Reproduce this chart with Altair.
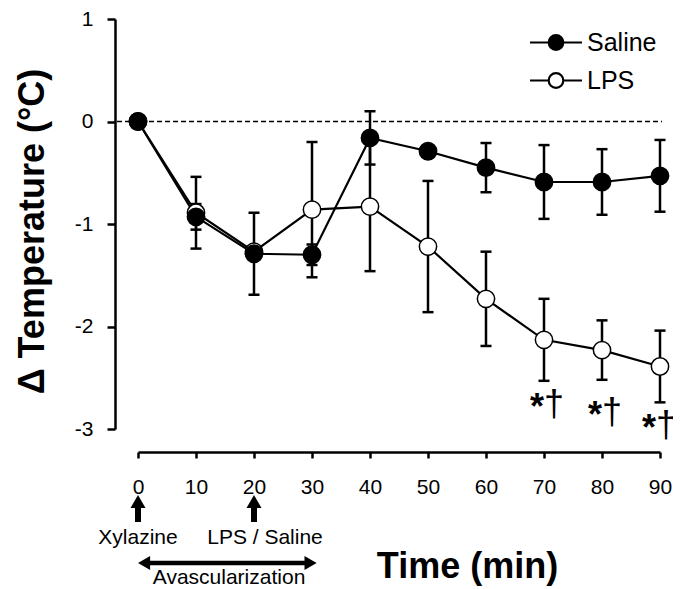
import altair as alt
import pandas as pd

# ---- data ----
time_min = [0, 10, 20, 30, 40, 50, 60, 70, 80, 90]
saline_mean = [0.0, -0.93, -1.29, -1.30, -0.16, -0.29, -0.45, -0.59, -0.59, -0.53]
saline_err = [0.0, 0.125, 0.40, 0.10, 0.26, 0.05, 0.24, 0.36, 0.32, 0.35]
lps_mean = [0.0, -0.89, -1.27, -0.86, -0.83, -1.22, -1.73, -2.13, -2.23, -2.39]
lps_err = [0.0, 0.35, 0.05, 0.66, 0.63, 0.64, 0.46, 0.40, 0.29, 0.35]
series_names = ["Saline", "LPS"]
series_fill = ["black", "white"]
x_ticks = [0, 10, 20, 30, 40, 50, 60, 70, 80, 90]
y_ticks = [-3, -2, -1, 0, 1]

sig_times = [70, 80, 90]
sig_y = [-2.90, -2.98, -3.11]
sig_shift_px = [0, 0, -4]

event_times = [0, 20]
event_labels = ["Xylazine", "LPS / Saline"]
event_dx = [0, 11]
span_start = [0]
span_end = [30.8]
span_label = ["Avascularization"]
span_mid = [15.7]

FONT = "Liberation Sans"
PLOT_W = 522
PX_PER_MIN = PLOT_W / 90

rows = []
for name, means, errs in (("LPS", lps_mean, lps_err), ("Saline", saline_mean, saline_err)):
    for t, m, e in zip(time_min, means, errs):
        rows.append({"time": t, "series": name, "mean": m, "lo": m - e, "hi": m + e, "err": e})
df = pd.DataFrame(rows)

x_scale = alt.Scale(domain=[0, 90], nice=False, zero=False)
y_scale = alt.Scale(domain=[-3, 1], nice=False, zero=False)

x_axis = alt.Axis(
    values=x_ticks, offset=23, grid=False,
    domainColor="black", domainWidth=2.5, tickColor="black", tickWidth=2.5, tickSize=6,
    labelFont=FONT, labelFontSize=21, labelColor="black", labelPadding=35,
    labelBaseline="alphabetic", labelFlush=False, labelOverlap=False,
    title="Time (min)", titleFont=FONT, titleFontSize=36, titleFontWeight="bold",
    titleColor="black", titleX=329, titleY=125, titleAlign="center",
    titleBaseline="alphabetic", titleAnchor="start",
)
y_axis = alt.Axis(
    values=y_ticks, offset=23, grid=False,
    domainColor="black", domainWidth=2.5, tickColor="black", tickWidth=2.5, tickSize=8,
    labelFont=FONT, labelFontSize=21, labelColor="black", labelPadding=14,
    labelExpr="'' + datum.value", labelFlush=False, labelOverlap=False,
    title="Δ Temperature (°C)", titleFont=FONT, titleFontSize=36, titleFontWeight="bold",
    titleColor="black", titleX=-72, titleY=212, titleAngle=270, titleAlign="center",
    titleBaseline="alphabetic", titleAnchor="start",
)

X = alt.X("time:Q", scale=x_scale, axis=x_axis)
base = alt.Chart(df)

zero_line = alt.Chart(pd.DataFrame({"v": [0]})).mark_rule(
    color="black", strokeWidth=1.5, strokeDash=[5, 3]
).encode(y=alt.Y("v:Q", scale=y_scale, axis=y_axis), x=alt.value(-21), x2=alt.value(PLOT_W + 2))

err_rule = base.transform_filter("datum.err > 0").mark_rule(color="black", strokeWidth=2.5).encode(
    x=X, y=alt.Y("lo:Q", scale=y_scale, axis=y_axis), y2="hi:Q"
)
cap_lo = base.transform_filter("datum.err > 0").mark_tick(
    orient="horizontal", size=11, thickness=2.5, color="black", opacity=1
).encode(x=X, y=alt.Y("lo:Q", scale=y_scale))
cap_hi = base.transform_filter("datum.err > 0").mark_tick(
    orient="horizontal", size=11, thickness=2.5, color="black", opacity=1
).encode(x=X, y=alt.Y("hi:Q", scale=y_scale))

lines = base.mark_line(color="black", strokeWidth=2.2).encode(
    x=X, y=alt.Y("mean:Q", scale=y_scale), detail="series:N", order="time:Q"
)

legend_path = "M-3.56,0H-1M1,0H3.56M1,0A1,1,0,1,1,-1,0A1,1,0,1,1,1,0Z"
points = base.mark_point(
    shape="circle", filled=True, size=300, stroke="black", strokeWidth=1.5, opacity=1
).encode(
    x=X, y=alt.Y("mean:Q", scale=y_scale),
    fill=alt.Fill(
        "series:N",
        scale=alt.Scale(domain=series_names, range=series_fill),
        legend=alt.Legend(
            title=None, orient="none", legendX=405.5, legendY=11, padding=0,
            symbolType=legend_path, symbolSize=213, symbolStrokeColor="black",
            symbolStrokeWidth=2.2, symbolOpacity=1,
            labelFont=FONT, labelFontSize=25, labelColor="black", labelOffset=18.5,
            rowPadding=12,
        ),
    ),
)

sig_df = pd.DataFrame({"time": sig_times, "y": sig_y, "shift": sig_shift_px})
sig_base = alt.Chart(sig_df).transform_calculate(tx=f"datum.time + datum.shift / {PX_PER_MIN}")
sig_star = sig_base.mark_text(
    text="*", font=FONT, fontSize=36, fontWeight="bold", color="black",
    baseline="alphabetic", align="center", dx=-7
).encode(x=alt.X("tx:Q", scale=x_scale), y=alt.Y("y:Q", scale=y_scale))
sig_dag = sig_base.mark_text(
    text="†", font=FONT, fontSize=36, color="black",
    baseline="alphabetic", align="center", dx=10, dy=-3
).encode(x=alt.X("tx:Q", scale=x_scale), y=alt.Y("y:Q", scale=y_scale))

ev_df = pd.DataFrame({"time": event_times, "label": event_labels, "dx": event_dx})
ev_shaft = alt.Chart(ev_df).mark_rule(color="black", strokeWidth=6).encode(
    x=X, y=alt.value(487), y2=alt.value(503)
)
ev_head = alt.Chart(ev_df).mark_point(
    shape="triangle-up", size=225, filled=True, color="black", opacity=1
).encode(x=X, y=alt.value(482.5))
ev_text = alt.Chart(ev_df).transform_calculate(tx=f"datum.time + datum.dx / {PX_PER_MIN}").mark_text(
    font=FONT, fontSize=21, color="black", baseline="alphabetic", align="center"
).encode(x=alt.X("tx:Q", scale=x_scale), y=alt.value(525), text="label:N")

span_df = pd.DataFrame({"s": span_start, "e": span_end, "m": span_mid, "label": span_label})
span_line = alt.Chart(span_df).transform_calculate(
    s2="datum.s + 1", e2="datum.e - 1"
).mark_rule(color="black", strokeWidth=4.5).encode(
    x=alt.X("s2:Q", scale=x_scale), x2="e2:Q", y=alt.value(544)
)
span_left = alt.Chart(span_df).transform_calculate(
    s3=f"datum.s + 6.06 / {PX_PER_MIN}"
).mark_point(
    shape="triangle-left", size=196, filled=True, color="black", opacity=1
).encode(x=alt.X("s3:Q", scale=x_scale), y=alt.value(544))
span_right = alt.Chart(span_df).transform_calculate(
    e3=f"datum.e - 6.06 / {PX_PER_MIN}"
).mark_point(
    shape="triangle-right", size=196, filled=True, color="black", opacity=1
).encode(x=alt.X("e3:Q", scale=x_scale), y=alt.value(544))
span_text = alt.Chart(span_df).mark_text(
    font=FONT, fontSize=21, color="black", baseline="alphabetic", align="center"
).encode(x=alt.X("m:Q", scale=x_scale), y=alt.value(565), text="label:N")

chart = alt.layer(
    zero_line, err_rule, cap_lo, cap_hi, lines, points, sig_star, sig_dag,
    ev_shaft, ev_head, ev_text, span_line, span_left, span_right, span_text,
).properties(
    width=PLOT_W, height=410,
    padding={"left": 130, "top": 11, "right": 665 - 130 - PLOT_W, "bottom": 160},
    autosize="none",
).configure(font=FONT).configure_view(stroke=None)

chart.save("out.html", embed_options={"renderer": "svg", "actions": False})
